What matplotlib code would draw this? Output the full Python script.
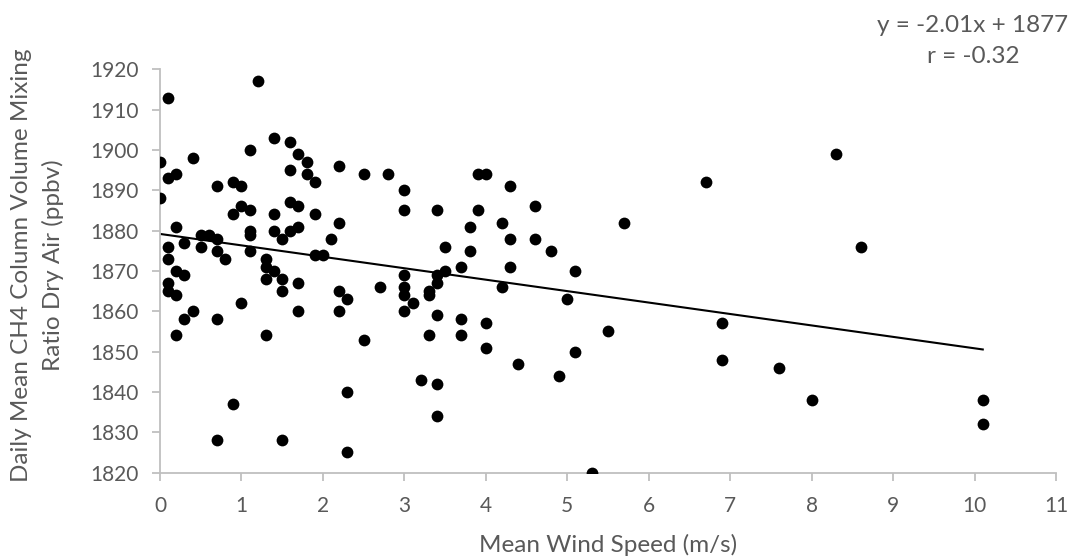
import numpy as np
import matplotlib
matplotlib.use("Agg")
import matplotlib.pyplot as plt

# wind speed (m/s) and daily mean CH4 (ppbv)
wind = [0, 0,
        0.1, 0.1, 0.1, 0.1, 0.1, 0.1,
        0.2, 0.2, 0.2, 0.2, 0.2,
        0.3, 0.3, 0.3,
        0.4, 0.4,
        0.5, 0.5,
        0.6,
        0.7, 0.7, 0.7, 0.7, 0.7,
        0.8,
        0.9, 0.9, 0.9,
        1.0, 1.0, 1.0,
        1.1, 1.1, 1.1, 1.1, 1.1,
        1.2,
        1.3, 1.3, 1.3, 1.3,
        1.4, 1.4, 1.4, 1.4,
        1.5, 1.5, 1.5, 1.5,
        1.6, 1.6, 1.6, 1.6,
        1.7, 1.7, 1.7, 1.7, 1.7,
        1.8, 1.8,
        1.9, 1.9, 1.9,
        2.0, 2.1,
        2.2, 2.2, 2.2, 2.2,
        2.3, 2.3, 2.3,
        2.5, 2.5,
        2.7, 2.8,
        3.0, 3.0, 3.0, 3.0, 3.0, 3.0,
        3.1, 3.2,
        3.3, 3.3, 3.3,
        3.4, 3.4, 3.4, 3.4, 3.4, 3.4,
        3.5, 3.5,
        3.7, 3.7, 3.7,
        3.8, 3.8,
        3.9, 3.9,
        4.0, 4.0, 4.0,
        4.2, 4.2,
        4.3, 4.3, 4.3,
        4.4,
        4.6, 4.6,
        4.8, 4.9, 5.0,
        5.1, 5.1,
        5.3, 5.5, 5.7, 6.7,
        6.9, 6.9,
        7.6, 8.0, 8.3, 8.6,
        10.1, 10.1]

ch4 = [1897, 1888,
       1913, 1893, 1876, 1873, 1867, 1865,
       1894, 1881, 1870, 1864, 1854,
       1877, 1869, 1858,
       1898, 1860,
       1879, 1876,
       1879,
       1891, 1878, 1875, 1858, 1828,
       1873,
       1892, 1884, 1837,
       1891, 1886, 1862,
       1900, 1885, 1880, 1879, 1875,
       1917,
       1873, 1871, 1868, 1854,
       1903, 1884, 1880, 1870,
       1878, 1868, 1865, 1828,
       1902, 1895, 1887, 1880,
       1899, 1886, 1881, 1867, 1860,
       1897, 1894,
       1892, 1884, 1874,
       1874, 1878,
       1896, 1882, 1865, 1860,
       1863, 1840, 1825,
       1894, 1853,
       1866, 1894,
       1890, 1885, 1869, 1866, 1864, 1860,
       1862, 1843,
       1865, 1864, 1854,
       1885, 1869, 1867, 1859, 1842, 1834,
       1876, 1870,
       1871, 1858, 1854,
       1881, 1875,
       1894, 1885,
       1894, 1857, 1851,
       1882, 1866,
       1891, 1878, 1871,
       1847,
       1886, 1878,
       1875, 1844, 1863,
       1870, 1850,
       1820, 1855, 1882, 1892,
       1857, 1848,
       1846, 1838, 1899, 1876,
       1838, 1832]

eq_lines = ["y = -2.01x + 1877", "r = -0.32"]

plt.rcParams['font.family'] = ['Lato', 'DejaVu Sans']
grey = '#595959'
axis_grey = '#BFBFBF'

fig = plt.figure(figsize=(10.7, 5.56), dpi=100)
ax = fig.add_axes([0.1495, 0.150, 0.8375, 0.7254])

x = np.array(wind)
y = np.array(ch4)
ax.scatter(x, y, s=72, color='black', zorder=3, linewidths=0)

# linear trendline
coef = np.polyfit(x, y, 1)
xs = np.array([x.min(), x.max()])
ax.plot(xs, np.polyval(coef, xs), color='black', linewidth=1.5, zorder=2)

ax.set_xlim(0, 11)
ax.set_ylim(1820, 1920)
ax.set_xticks(range(0, 12))
ax.set_yticks(range(1820, 1921, 10))

for side in ['top', 'right']:
    ax.spines[side].set_visible(False)
for side in ['left', 'bottom']:
    ax.spines[side].set_color(axis_grey)
    ax.spines[side].set_linewidth(1.3)

ax.tick_params(axis='both', colors=axis_grey, length=5.5, width=1.3,
               labelcolor=grey, labelsize=15)
ax.tick_params(axis='x', pad=11)
ax.tick_params(axis='y', pad=10)

ax.set_xlabel('Mean Wind Speed (m/s)', fontsize=17.5, color=grey, labelpad=13)
fig.text(0.035, 0.523, 'Daily Mean CH4 Column Volume Mixing\nRatio Dry Air (ppbv)',
         rotation=90, ha='center', va='center', multialignment='center',
         fontsize=17.5, color=grey, linespacing=1.5)

fig.text(0.9093, 0.955, eq_lines[0], ha='center', va='center', fontsize=17.5, color=grey)
fig.text(0.9093, 0.8975, eq_lines[1], ha='center', va='center', fontsize=17.5, color=grey)

fig.savefig('out.png', dpi=100)
